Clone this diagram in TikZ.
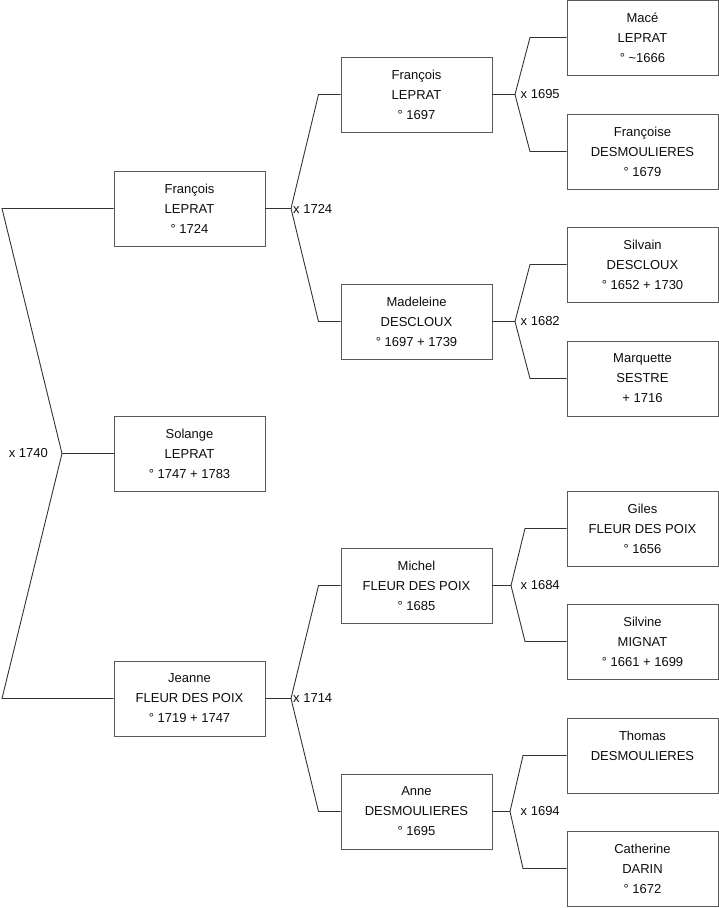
\documentclass[tikz,border=0pt]{standalone}
\usepackage{fontspec}
\setmainfont{Liberation Sans}
\begin{document}
\begin{tikzpicture}[x=1pt,y=-1pt,
  person/.style={draw=black!65, line width=0.9pt, minimum width=151pt, minimum height=75pt,
    inner sep=0pt, align=center, font=\fontsize{13}{20}\selectfont, text=black!95},
  lbl/.style={inner sep=0pt, font=\fontsize{13}{15}\selectfont, text=black!95},
  link/.style={draw=black!80, line width=0.9pt, line join=miter}]
\useasboundingbox (0,0) rectangle (719,908);
% column 1
\node[person] (f1) at (189.5,208.5) {François\\LEPRAT\\° 1724};
\node[person] (s1) at (189.5,453.5) {Solange\\LEPRAT\\° 1747 + 1783};
\node[person] (j1) at (189.5,698.5) {Jeanne\\FLEUR DES POIX\\° 1719 + 1747};
% column 2
\node[person] (f2) at (416.5,94.5) {François\\LEPRAT\\° 1697};
\node[person] (m2) at (416.5,321.5) {Madeleine\\DESCLOUX\\° 1697 + 1739};
\node[person] (mi2) at (416.5,585.5) {Michel\\FLEUR DES POIX\\° 1685};
\node[person] (a2) at (416.5,811.5) {Anne\\DESMOULIERES\\° 1695};
% column 3
\node[person] (p1) at (642.5,37.5) {Macé\\LEPRAT\\° \textasciitilde1666};
\node[person] (p2) at (642.5,151.5) {Françoise\\DESMOULIERES\\° 1679};
\node[person] (p3) at (642.5,264.5) {Silvain\\DESCLOUX\\° 1652 + 1730};
\node[person] (p4) at (642.5,378.5) {Marquette\\SESTRE\\+ 1716};
\node[person] (p5) at (642.5,528.5) {Giles\\FLEUR DES POIX\\° 1656};
\node[person] (p6) at (642.5,641.5) {Silvine\\MIGNAT\\° 1661 + 1699};
\node[person] (p7) at (642.5,755.5) {Thomas\\DESMOULIERES\\\mbox{}};
\node[person] (p8) at (642.5,868.5) {Catherine\\DARIN\\° 1672};

% root fork
\coordinate (v0) at (62,453.5);
\coordinate (t0) at (2,208.5);
\coordinate (b0) at (2,698.5);
\draw[link] (f1.west) -- (t0) -- (v0) -- (b0) -- (j1.west);
\draw[link] (v0) -- (s1.west);
\node[lbl, anchor=east] (l0) at (48,453.5) {x 1740};

% fork of f1
\coordinate (v1) at (291,208.5);
\coordinate (t1) at (318.5,94.5);
\coordinate (b1) at (318.5,321.5);
\draw[link] (f1.east) -- (v1);
\draw[link] (f2.west) -- (t1) -- (v1) -- (b1) -- (m2.west);
\node[lbl, anchor=west] (l1) at (293,208.5) {x 1724};

% fork of j1
\coordinate (v2) at (291,698.5);
\coordinate (t2) at (318.5,585.5);
\coordinate (b2) at (318.5,811.5);
\draw[link] (j1.east) -- (v2);
\draw[link] (mi2.west) -- (t2) -- (v2) -- (b2) -- (a2.west);
\node[lbl, anchor=west] (l2) at (293,698.5) {x 1714};

% fork of f2
\coordinate (v3) at (515,94.5);
\coordinate (t3) at (530,37.5);
\coordinate (b3) at (530,151.5);
\draw[link] (f2.east) -- (v3);
\draw[link] (p1.west) -- (t3) -- (v3) -- (b3) -- (p2.west);
\node[lbl, anchor=west] (l3) at (520.5,94.5) {x 1695};

% fork of m2
\coordinate (v4) at (515,321.5);
\coordinate (t4) at (530,264.5);
\coordinate (b4) at (530,378.5);
\draw[link] (m2.east) -- (v4);
\draw[link] (p3.west) -- (t4) -- (v4) -- (b4) -- (p4.west);
\node[lbl, anchor=west] (l4) at (520.5,321.5) {x 1682};

% fork of mi2
\coordinate (v5) at (511,585.5);
\coordinate (t5) at (525,528.5);
\coordinate (b5) at (525,641.5);
\draw[link] (mi2.east) -- (v5);
\draw[link] (p5.west) -- (t5) -- (v5) -- (b5) -- (p6.west);
\node[lbl, anchor=west] (l5) at (520.5,585.5) {x 1684};

% fork of a2
\coordinate (v6) at (510,811.5);
\coordinate (t6) at (523,755.5);
\coordinate (b6) at (523,868.5);
\draw[link] (a2.east) -- (v6);
\draw[link] (p7.west) -- (t6) -- (v6) -- (b6) -- (p8.west);
\node[lbl, anchor=west] (l6) at (520.5,811.5) {x 1694};
\end{tikzpicture}
\end{document}
